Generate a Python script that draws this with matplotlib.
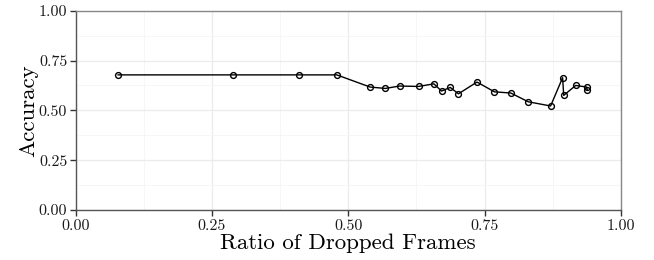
import numpy as np
import matplotlib
matplotlib.use("Agg")
import matplotlib.pyplot as plt
from matplotlib.ticker import MultipleLocator, FormatStrFormatter

# ratio of dropped frames vs accuracy
ratio = [0.078, 0.289, 0.409, 0.479, 0.540, 0.568, 0.594, 0.629, 0.657,
         0.671, 0.687, 0.702, 0.736, 0.768, 0.798, 0.830, 0.871, 0.893,
         0.895, 0.917, 0.937, 0.938]
accuracy = [0.678, 0.678, 0.678, 0.678, 0.617, 0.610, 0.622, 0.620, 0.633,
            0.597, 0.615, 0.583, 0.642, 0.593, 0.587, 0.543, 0.522, 0.664,
            0.575, 0.625, 0.617, 0.604]

plt.rcParams['font.family'] = ['cmr10', 'DejaVu Serif']
plt.rcParams['axes.formatter.use_mathtext'] = True

fig = plt.figure(figsize=(6.54, 2.6), dpi=100)
ax = fig.add_axes([0.1155, 0.1923, 0.834, 0.7665])

ax.plot(ratio, accuracy, color='black', lw=1.0, marker='o', ms=4.2,
        mfc='none', mec='black', mew=1.0, zorder=3)

ax.set_xlim(0, 1)
ax.set_ylim(0, 1)
ax.xaxis.set_major_locator(MultipleLocator(0.25))
ax.yaxis.set_major_locator(MultipleLocator(0.25))
ax.xaxis.set_minor_locator(MultipleLocator(0.125))
ax.yaxis.set_minor_locator(MultipleLocator(0.125))
ax.xaxis.set_major_formatter(FormatStrFormatter('%.2f'))
ax.yaxis.set_major_formatter(FormatStrFormatter('%.2f'))

ax.grid(which='major', color='#ebebeb', lw=0.9, zorder=0)
ax.grid(which='minor', color='#f5f5f5', lw=0.6, zorder=0)
ax.set_axisbelow(True)

for side in ['top', 'right']:
    ax.spines[side].set_color('#888888')
    ax.spines[side].set_linewidth(1.0)
for side in ['left', 'bottom']:
    ax.spines[side].set_color('#555555')
    ax.spines[side].set_linewidth(1.0)

ax.tick_params(which='major', direction='out', length=4.5, width=1.0,
               color='#333333', labelsize=11.5, labelcolor='#1a1a1a', pad=1.5)
ax.tick_params(axis='x', which='major', pad=2.5)
ax.tick_params(which='minor', length=0)

ax.set_xlabel("Ratio of Dropped Frames", fontsize=16.5, labelpad=0)
ax.set_ylabel("Accuracy", fontsize=16.5, labelpad=0)

fig.savefig("out.png", dpi=100)
